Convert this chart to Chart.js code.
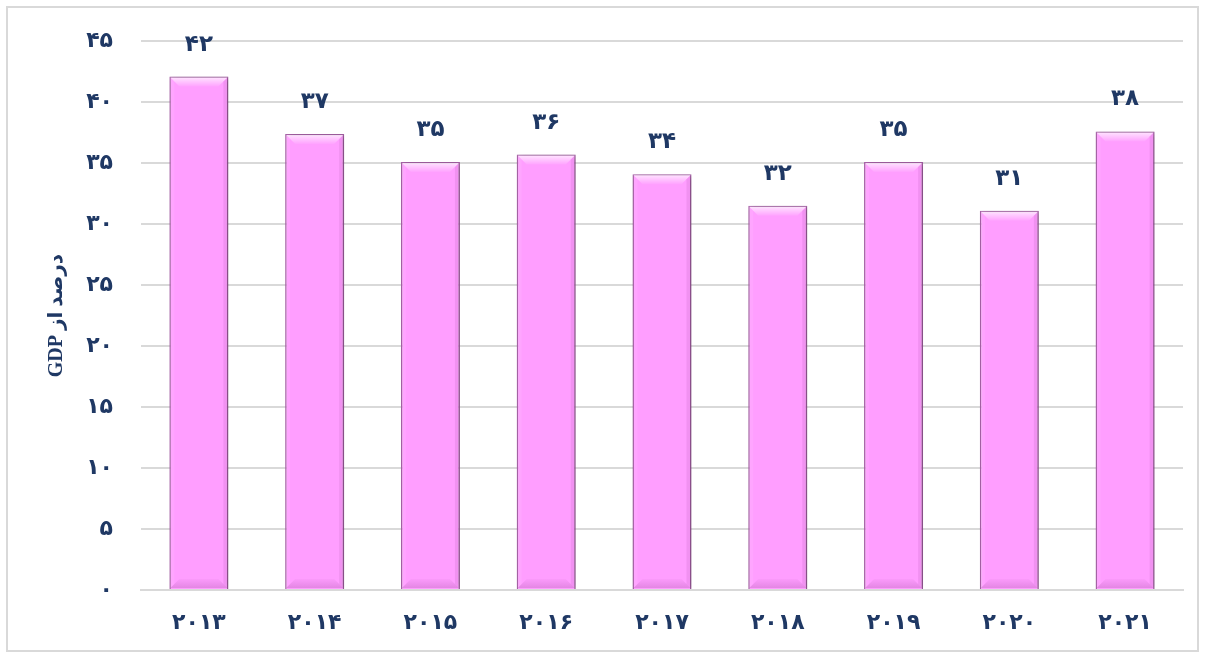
<!DOCTYPE html>
<html>
<head>
<meta charset="utf-8">
<script src="https://cdn.jsdelivr.net/npm/chart.js@4.4.1/dist/chart.umd.min.js"></script>
<style>
  html, body { margin: 0; padding: 0; background: #fff; }
  #wrap { position: absolute; left: 6px; top: 6px; width: 1189px; height: 642px; border: 2px solid #d9d9d9; }
  #chart { position: absolute; left: 0; top: 0; }
</style>
</head>
<body>
<div id="wrap"></div>
<canvas id="chart" width="1205" height="657"></canvas>
<script>
const years = ['2013', '2014', '2015', '2016', '2017', '2018', '2019', '2020', '2021'];
const values = [42.1, 37.4, 35.1, 35.7, 34.1, 31.5, 35.1, 31.1, 37.6];
const labels = [42, 37, 35, 36, 34, 32, 35, 31, 38];
const yTicks = [0, 5, 10, 15, 20, 25, 30, 35, 40, 45];

const navy = '#1F3864';
const faDigits = '۰۱۲۳۴۵۶۷۸۹';
const toFa = v => String(v).replace(/\d/g, d => faDigits[d]);

// labels above the bars
const valueLabels = {
  id: 'valueLabels',
  afterDatasetsDraw(chart) {
    const ctx = chart.ctx;
    const meta = chart.getDatasetMeta(0);
    ctx.save();
    ctx.font = 'bold 23px "DejaVu Sans"';
    ctx.fillStyle = navy;
    ctx.textAlign = 'center';
    ctx.textBaseline = 'middle';
    meta.data.forEach((bar, i) => {
      ctx.fillText(toFa(labels[i]), bar.x, bar.y - 32);
    });
    ctx.restore();
  }
};

// soft bevel on the bars
const bevel = {
  id: 'bevel',
  beforeDatasetDraw(chart) {
    const ctx = chart.ctx;
    ctx.save();
    ctx.shadowColor = 'rgba(0,0,0,0.28)';
    ctx.shadowBlur = 5;
    ctx.shadowOffsetX = 2;
    ctx.shadowOffsetY = 1;
  },
  afterDatasetDraw(chart) {
    const ctx = chart.ctx;
    ctx.restore();
    const meta = chart.getDatasetMeta(0);
    ctx.save();
    meta.data.forEach(bar => {
      const l = bar.x - bar.width / 2 + 1, r = bar.x + bar.width / 2 - 1;
      const t = bar.y + 1, b = bar.base - 1;
      const d = 9;
      let g = ctx.createLinearGradient(0, t, 0, t + d);
      g.addColorStop(0, 'rgba(255,255,255,0.7)');
      g.addColorStop(1, 'rgba(255,255,255,0.05)');
      ctx.fillStyle = g;
      ctx.beginPath();
      ctx.moveTo(l, t); ctx.lineTo(r, t); ctx.lineTo(r - d, t + d); ctx.lineTo(l + d, t + d);
      ctx.closePath(); ctx.fill();
      ctx.fillStyle = 'rgba(255,255,255,0.08)';
      ctx.beginPath();
      ctx.moveTo(l, t); ctx.lineTo(l + 4, t + 4); ctx.lineTo(l + 4, b - 4); ctx.lineTo(l, b);
      ctx.closePath(); ctx.fill();
      ctx.fillStyle = 'rgba(120,40,120,0.1)';
      ctx.beginPath();
      ctx.moveTo(r, t); ctx.lineTo(r - 4, t + 4); ctx.lineTo(r - 4, b - 4); ctx.lineTo(r, b);
      ctx.closePath(); ctx.fill();
      g = ctx.createLinearGradient(0, b - d, 0, b);
      g.addColorStop(0, 'rgba(120,40,120,0.03)');
      g.addColorStop(1, 'rgba(120,40,120,0.2)');
      ctx.fillStyle = g;
      ctx.beginPath();
      ctx.moveTo(l, b); ctx.lineTo(l + d, b - d); ctx.lineTo(r - d, b - d); ctx.lineTo(r, b);
      ctx.closePath(); ctx.fill();
    });
    ctx.restore();
  }
};

new Chart(document.getElementById('chart'), {
  type: 'bar',
  data: {
    labels: years,
    datasets: [{
      data: values,
      backgroundColor: '#FF9EFF',
      borderColor: '#A862A8',
      borderWidth: 1.5,
      barPercentage: 0.51,
      categoryPercentage: 1
    }]
  },
  options: {
    responsive: false,
    animation: false,
    devicePixelRatio: 1,
    layout: { padding: { left: 0, top: 36, right: 22, bottom: 0 } },
    plugins: { legend: { display: false }, tooltip: { enabled: false } },
    scales: {
      x: {
        grid: { display: false, drawTicks: false },
        border: { color: '#d9d9d9', width: 2 },
        ticks: {
          color: navy,
          font: { family: 'DejaVu Sans', weight: 'bold', size: 22 },
          padding: 20,
          callback: (v, i) => toFa(years[i])
        },
        afterFit: s => { s.height = 67; }
      },
      y: {
        min: 0,
        max: 45,
        afterBuildTicks: s => { s.ticks = yTicks.map(v => ({ value: v })); },
        grid: { color: '#d9d9d9', lineWidth: 2, drawTicks: false },
        border: { display: false },
        ticks: {
          color: navy,
          font: { family: 'DejaVu Sans', weight: 'bold', size: 22 },
          padding: 28,
          callback: v => toFa(v)
        },
        title: {
          display: true,
          text: '\u202Bدرصد از GDP\u202C',
          color: navy,
          font: { family: '"Liberation Serif", "DejaVu Sans"', weight: 'bold', size: 20 },
          padding: { top: 45, bottom: 0 }
        },
        afterFit: s => { s.width = 141; }
      }
    }
  },
  plugins: [bevel, valueLabels]
});
</script>
</body>
</html>
